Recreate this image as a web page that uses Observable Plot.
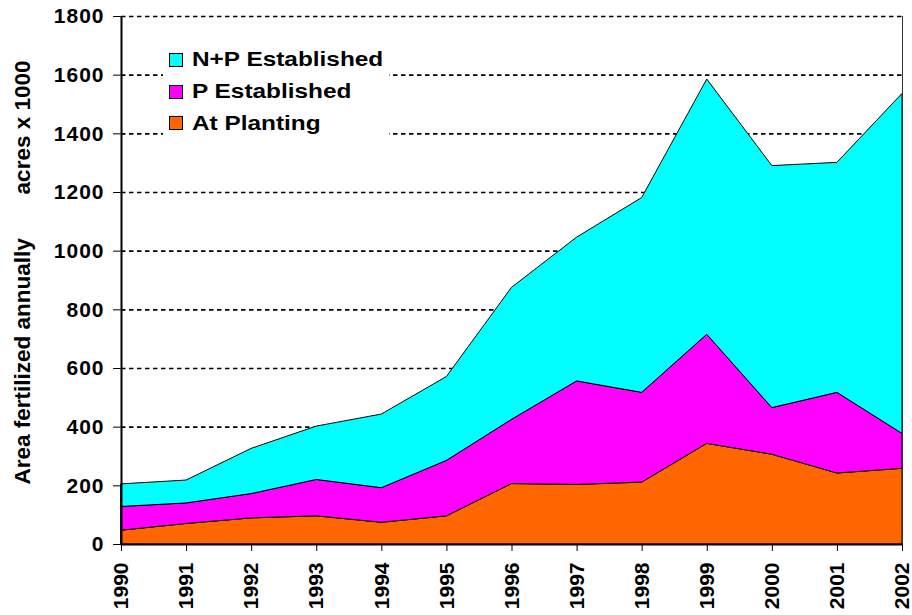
<!DOCTYPE html>
<html>
<head>
<meta charset="utf-8">
<script src="https://cdn.jsdelivr.net/npm/d3@7"></script>
<script src="https://cdn.jsdelivr.net/npm/@observablehq/plot@0.6"></script>
<style>
  body { margin: 0; background: #fff; font-family: "Liberation Sans", Arial, sans-serif; }
  #wrap { position: relative; width: 912px; height: 615px; }
  #legend { position: absolute; left: 163px; top: 44px; width: 226px; background: #fff; }
  .row { height: 31.7px; display: flex; align-items: center; padding-left: 6px; }
  .sw { width: 12px; height: 12px; border: 1px solid #000; flex: none; }
  .lab { font-weight: bold; font-size: 19.5px; margin-left: 9px; white-space: nowrap; transform: scaleX(1.25); transform-origin: left center; color: #000; }
  g[aria-label="y-axis tick label"] text { letter-spacing: 1px; }
</style>
</head>
<body>
<div id="wrap"></div>
<script>
const years = [1990, 1991, 1992, 1993, 1994, 1995, 1996, 1997, 1998, 1999, 2000, 2001, 2002];
const series = ["At Planting", "P Established", "N+P Established"];
const atPlanting = [47, 70, 89, 96, 74, 96, 206, 203, 211, 343, 306, 242, 258];
const pEstablished = [81, 70, 83, 124, 118, 189, 219, 353, 306, 372, 159, 275, 119];
const npEstablished = [77, 78, 154, 182, 251, 286, 450, 490, 664, 870, 825, 784, 1159];
const yTicks = [0, 200, 400, 600, 800, 1000, 1200, 1400, 1600, 1800];
const colors = ["#FF6600", "#FF00FF", "#00FFFF"];
const yLabel = "Area fertilized annually" + "\u00A0".repeat(7) + "acres x 1000";

const values = [atPlanting, pEstablished, npEstablished];
const table = [];
series.forEach((s, i) => years.forEach((yr, j) => table.push({year: yr, series: s, value: values[i][j]})));

const chart = Plot.plot({
  width: 912,
  height: 615,
  marginLeft: 121,
  marginRight: 10,
  marginTop: 16,
  marginBottom: 71,
  style: {fontFamily: "'Liberation Sans', Arial, sans-serif", color: "#000", background: "#fff"},
  x: {domain: [1990, 2002]},
  y: {domain: [0, 1800]},
  color: {domain: series, range: colors},
  marks: [
    Plot.ruleY(yTicks.filter(d => d > 0), {stroke: "#000", strokeWidth: 1.6, strokeDasharray: "4.5,3.5"}),
    Plot.areaY(table, Plot.stackY({x: "year", y: "value", z: "series", fill: "series", stroke: "#000", strokeWidth: 1, strokeLinejoin: "miter"})),
    Plot.ruleX([2002], {stroke: "#333", strokeWidth: 1}),
    Plot.axisY({ticks: yTicks, tickFormat: "d", tickSize: 8, tickPadding: 9, fontSize: 21, fontWeight: "bold", label: null}),
    Plot.axisX({ticks: years, tickFormat: "d", tickRotate: -90, tickSize: 7, tickPadding: 11,
      fontSize: 21, fontWeight: "bold", label: null}),
    Plot.text([yLabel], {frameAnchor: "left", dx: -99, dy: -8, rotate: -90, textAnchor: "middle",
      fontSize: 22.5, fontWeight: "bold", fill: "#000"}),
    Plot.ruleY([0], {stroke: "#000", strokeWidth: 2}),
    Plot.ruleX([1990], {stroke: "#000", strokeWidth: 2})
  ]
});

const wrap = document.getElementById("wrap");
wrap.appendChild(chart);

const legend = document.createElement("div");
legend.id = "legend";
[...series].reverse().forEach((s) => {
  const i = series.indexOf(s);
  const row = document.createElement("div");
  row.className = "row";
  const sw = document.createElement("div");
  sw.className = "sw";
  sw.style.background = colors[i];
  const lab = document.createElement("span");
  lab.className = "lab";
  lab.textContent = s;
  row.appendChild(sw);
  row.appendChild(lab);
  legend.appendChild(row);
});
wrap.appendChild(legend);
</script>
</body>
</html>
